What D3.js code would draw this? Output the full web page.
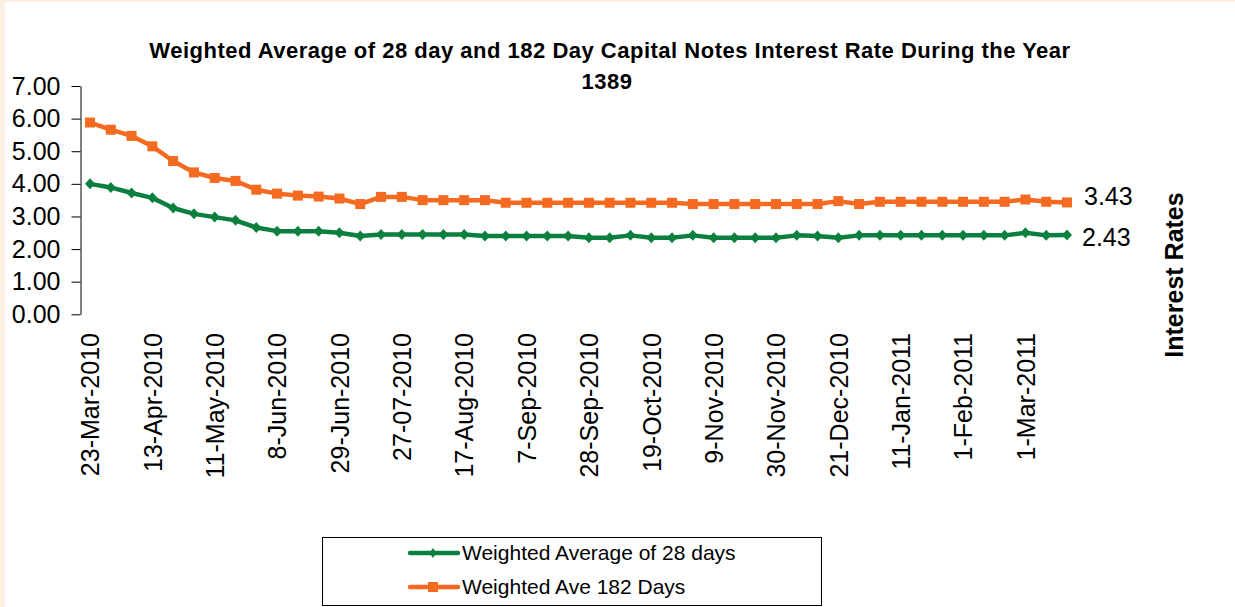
<!DOCTYPE html>
<html>
<head>
<meta charset="utf-8">
<script src="https://cdnjs.cloudflare.com/ajax/libs/d3/7.8.5/d3.min.js"></script>
<style>
  body { margin: 0; background: #fdefe2; }
  svg { display: block; font-family: "Liberation Sans", Arial, sans-serif; }
</style>
</head>
<body>
<div id="chart-container"></div>
<script>
var dates = [
  "23-Mar-2010", "30-Mar-2010", "6-Apr-2010", "13-Apr-2010", "20-Apr-2010", "27-Apr-2010",
  "11-May-2010", "18-May-2010", "25-May-2010", "8-Jun-2010", "15-Jun-2010", "22-Jun-2010",
  "29-Jun-2010", "6-Jul-2010", "13-Jul-2010", "27-07-2010", "3-Aug-2010", "10-Aug-2010",
  "17-Aug-2010", "24-Aug-2010", "31-Aug-2010", "7-Sep-2010", "14-Sep-2010", "21-Sep-2010",
  "28-Sep-2010", "5-Oct-2010", "12-Oct-2010", "19-Oct-2010", "26-Oct-2010", "2-Nov-2010",
  "9-Nov-2010", "16-Nov-2010", "23-Nov-2010", "30-Nov-2010", "7-Dec-2010", "14-Dec-2010",
  "21-Dec-2010", "28-Dec-2010", "4-Jan-2011", "11-Jan-2011", "18-Jan-2011", "25-Jan-2011",
  "1-Feb-2011", "8-Feb-2011", "15-Feb-2011", "1-Mar-2011", "8-Mar-2011", "15-Mar-2011"
];

// every third date is printed on the axis
var tickLabels = [
  "23-Mar-2010", "13-Apr-2010", "11-May-2010", "8-Jun-2010", "29-Jun-2010", "27-07-2010",
  "17-Aug-2010", "7-Sep-2010", "28-Sep-2010", "19-Oct-2010", "9-Nov-2010", "30-Nov-2010",
  "21-Dec-2010", "11-Jan-2011", "1-Feb-2011", "1-Mar-2011"
];

var rate28 = [
  4.00, 3.89, 3.72, 3.57, 3.26, 3.08, 2.98, 2.88, 2.66, 2.55, 2.55, 2.55,
  2.50, 2.40, 2.45, 2.45, 2.45, 2.45, 2.45, 2.40, 2.40, 2.40, 2.40, 2.40,
  2.35, 2.35, 2.42, 2.35, 2.35, 2.42, 2.35, 2.35, 2.35, 2.35, 2.42, 2.40,
  2.35, 2.42, 2.42, 2.42, 2.42, 2.42, 2.42, 2.42, 2.42, 2.50, 2.42, 2.43
];

var rate182 = [
  5.88, 5.66, 5.47, 5.15, 4.70, 4.35, 4.18, 4.09, 3.82, 3.70, 3.64, 3.61,
  3.55, 3.38, 3.60, 3.60, 3.50, 3.50, 3.50, 3.50, 3.42, 3.42, 3.42, 3.42,
  3.42, 3.42, 3.42, 3.42, 3.42, 3.38, 3.38, 3.38, 3.38, 3.38, 3.38, 3.38,
  3.47, 3.38, 3.45, 3.45, 3.45, 3.45, 3.45, 3.45, 3.45, 3.52, 3.45, 3.43
];

var yTicks = [0, 1, 2, 3, 4, 5, 6, 7];

var seriesNames = ["Weighted Average of 28 days", "Weighted Ave 182 Days"];

var green = "#0b7f3e",
  orange = "#f46a20";

var width = 1235,
  height = 607;

var svg = d3
  .select("#chart-container")
  .append("svg")
  .attr("width", width)
  .attr("height", height);

// white chart area, thin peach strip left and top
svg
  .append("rect")
  .attr("x", 5)
  .attr("y", 2)
  .attr("width", width - 5)
  .attr("height", height - 2)
  .attr("fill", "#fff");

var x = d3.scalePoint().domain(dates).range([90, 1067]);

var y = d3.scaleLinear().domain([0, 7]).range([314.3, 86]);

// title
var title = svg
  .append("text")
  .attr("text-anchor", "middle")
  .attr("font-weight", "bold")
  .attr("font-size", "22px")
  .attr("letter-spacing", "0.5px");
title.append("tspan").attr("x", 610).attr("y", 58).text(
  "Weighted Average of 28 day and 182 Day Capital Notes Interest Rate During the Year"
);
title.append("tspan").attr("x", 607).attr("y", 89).text("1389");

// y axis
var yAxis = d3
  .axisLeft(y)
  .tickValues(yTicks)
  .tickFormat(d3.format(".2f"))
  .tickSize(9)
  .tickSizeOuter(0)
  .tickPadding(11);

var gy = svg
  .append("g")
  .attr("transform", "translate(80.5,0)")
  .call(yAxis);
gy.selectAll("path, line").attr("stroke", "#000");
gy.selectAll("text")
  .attr("font-size", "25px")
  .attr("font-family", "'Liberation Sans', Arial, sans-serif")
  .attr("fill", "#000");

// x axis labels only
var xAxis = d3.axisBottom(x).tickValues(tickLabels).tickSize(0);

var gx = svg
  .append("g")
  .attr("transform", "translate(0,314)")
  .call(xAxis);
gx.select(".domain").remove();
gx.selectAll("text")
  .attr("transform", "rotate(-90)")
  .attr("text-anchor", "end")
  .attr("x", -19)
  .attr("y", 0)
  .attr("dy", "0.35em")
  .attr("font-size", "25px")
  .attr("font-family", "'Liberation Sans', Arial, sans-serif")
  .attr("fill", "#000");

// right axis title
svg
  .append("text")
  .attr("transform", "translate(1183,275) rotate(-90)")
  .attr("text-anchor", "middle")
  .attr("font-weight", "bold")
  .attr("font-size", "25px")
  .text("Interest Rates");

var line = d3
  .line()
  .x(function(d, i) {
    return x(dates[i]);
  })
  .y(function(d) {
    return y(d);
  });

var diamond = "M0,-5.5L5,0L0,5.5L-5,0Z";

function drawSeries(values, color, marker) {
  svg
    .append("path")
    .datum(values)
    .attr("fill", "none")
    .attr("stroke", color)
    .attr("stroke-width", 4.5)
    .attr("stroke-linejoin", "round")
    .attr("d", line);

  var pts = svg
    .append("g")
    .selectAll("g")
    .data(values)
    .enter()
    .append("g")
    .attr("transform", function(d, i) {
      return "translate(" + x(dates[i]) + "," + y(d) + ")";
    });

  if (marker == "square") {
    pts
      .append("rect")
      .attr("x", -5)
      .attr("y", -5)
      .attr("width", 10)
      .attr("height", 10)
      .attr("fill", color);
  } else {
    pts.append("path").attr("d", diamond).attr("fill", color);
  }
}

drawSeries(rate28, green, "diamond");
drawSeries(rate182, orange, "square");

// end labels
var last = dates.length - 1;
svg
  .append("text")
  .attr("x", x(dates[last]) + 17)
  .attr("y", y(rate182[last]) - 6)
  .attr("dy", "0.35em")
  .attr("font-size", "25px")
  .text(d3.format(".2f")(rate182[last]));
svg
  .append("text")
  .attr("x", x(dates[last]) + 15)
  .attr("y", y(rate28[last]) + 2)
  .attr("dy", "0.35em")
  .attr("font-size", "25px")
  .text(d3.format(".2f")(rate28[last]));

// legend
var legend = svg.append("g").attr("transform", "translate(322,537)");
legend
  .append("rect")
  .attr("x", 0.5)
  .attr("y", 0.5)
  .attr("width", 499)
  .attr("height", 68)
  .attr("fill", "#fff")
  .attr("stroke", "#000");

var items = legend
  .selectAll(".item")
  .data([
    { name: seriesNames[0], color: green, marker: "diamond" },
    { name: seriesNames[1], color: orange, marker: "square" }
  ])
  .enter()
  .append("g")
  .attr("class", "item")
  .attr("transform", function(d, i) {
    return "translate(0," + (16 + i * 34) + ")";
  });

items
  .append("line")
  .attr("x1", 88)
  .attr("x2", 136)
  .attr("stroke", function(d) {
    return d.color;
  })
  .attr("stroke-width", 4.5)
  .attr("stroke-linecap", "round");

items.each(function(d) {
  var g = d3.select(this);
  if (d.marker == "square") {
    g.append("rect")
      .attr("x", 106)
      .attr("y", -5)
      .attr("width", 10)
      .attr("height", 10)
      .attr("fill", d.color);
  } else {
    g.append("path")
      .attr("transform", "translate(111,0)")
      .attr("d", "M0,-5L3.5,0L0,5L-3.5,0Z")
      .attr("fill", d.color);
  }
});

items
  .append("text")
  .attr("x", 140)
  .attr("dy", "0.35em")
  .attr("font-size", "21px")
  .text(function(d) {
    return d.name;
  });
</script>
</body>
</html>
